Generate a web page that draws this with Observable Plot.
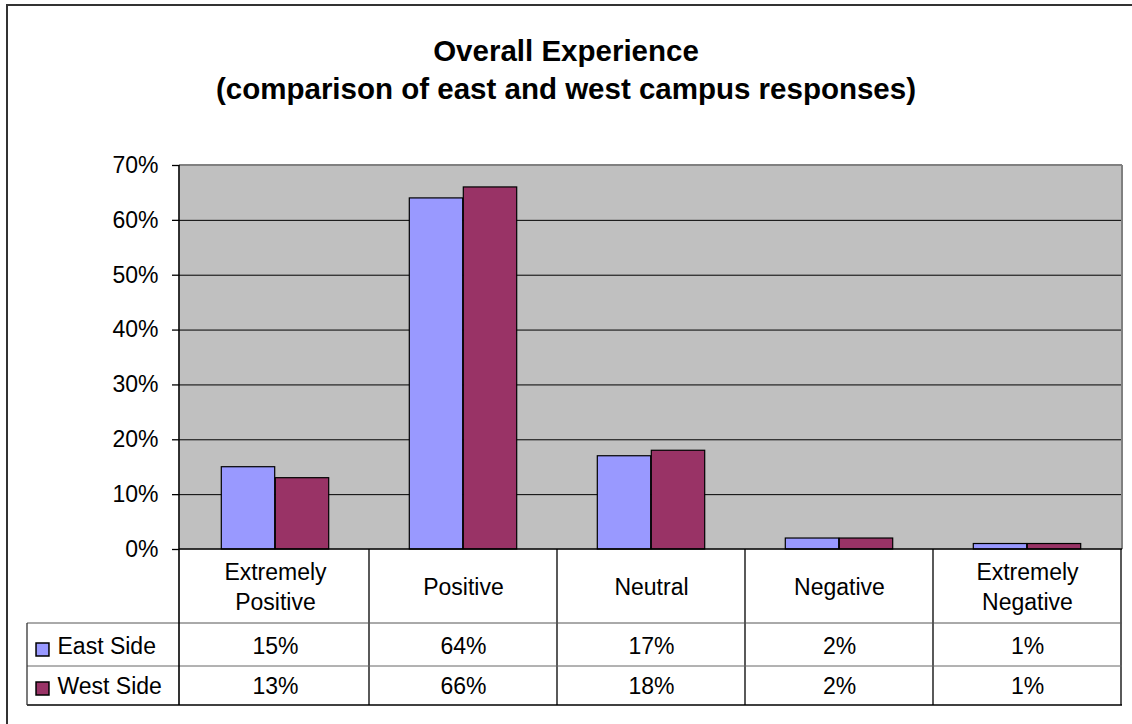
<!DOCTYPE html>
<html><head><meta charset="utf-8">
<script src="https://cdn.jsdelivr.net/npm/d3@7"></script>
<script src="https://cdn.jsdelivr.net/npm/@observablehq/plot@0.6"></script>
<style>
html,body{margin:0;padding:0;background:#fff;overflow:hidden;}
#wrap{position:relative;width:1132px;height:724px;overflow:hidden;font-family:"Liberation Sans",Arial,sans-serif;}
#border{position:absolute;left:6px;top:4px;width:1300px;height:900px;border:2px solid #333;}
#title{position:absolute;left:0;top:32px;width:1132px;text-align:center;font-weight:bold;font-size:29.5px;line-height:38px;color:#000;}
#chart{position:absolute;left:0;top:140px;}
</style></head>
<body><div id="wrap"><div id="border"></div><div id="title">Overall Experience<br>(comparison of east and west campus responses)</div><div id="chart"></div></div>
<script>
const categories = ["Extremely Positive", "Positive", "Neutral", "Negative", "Extremely Negative"];
const categoryLabels = ["Extremely\nPositive", "Positive", "Neutral", "Negative", "Extremely\nNegative"];
const sides = ["East Side", "West Side"];
const eastValues = [0.15, 0.64, 0.17, 0.02, 0.01];
const westValues = [0.13, 0.66, 0.18, 0.02, 0.01];
const sideColors = ["#9999FF", "#993366"];
const yTicks = [0, 0.1, 0.2, 0.3, 0.4, 0.5, 0.6, 0.7];
const gridTicks = [0.1, 0.2, 0.3, 0.4, 0.5, 0.6];

const seriesValues = [eastValues, westValues];
const data = categories.flatMap((c, i) => sides.map((s, k) => ({category: c, side: s, value: seriesValues[k][i]})));

const W = 1132, H = 584, mTop = 25, mBottom = 175, mLeft = 179, mRight = 10;
const bw = (W - mLeft - mRight) / categories.length;
const barW = 54;
const outer = (bw - 2 * barW) / 2;
const fmt = d3.format(".0%");
const FS = 23;
const rowDy = [97, 137];
const swatchDy = [100, 139];

function tableGrid(index, scales, values, dims) {
  const x = scales.x;
  const b = x.bandwidth();
  const L = dims.marginLeft, R = dims.width - dims.marginRight;
  const T = dims.marginTop, B = dims.height - dims.marginBottom;
  const g = d3.create("svg:g").attr("fill", "none");
  const line = (x1, y1, x2, y2, stroke, w) => g.append("line")
    .attr("x1", x1).attr("y1", y1).attr("x2", x2).attr("y2", y2)
    .attr("stroke", stroke).attr("stroke-width", w);
  line(L, T, R, T, "#808080", 2);
  line(R, T, R, B, "#808080", 2);
  categories.forEach(c => { const xr = x(c) + b; line(xr, B, xr, B + 156, "#000", 1.3); });
  line(L - 152, B + 74, R, B + 74, "#555", 1);
  line(L - 152, B + 117, R, B + 117, "#666", 1);
  line(L - 152, B + 156, R, B + 156, "#000", 1.3);
  line(L - 152, B + 74, L - 152, B + 156, "#333", 1.3);
  line(L, T, L, B + 156, "#000", 1.6);
  line(L, B, R, B, "#000", 1.6);
  return g.node();
}

const marks = [
  Plot.frame({fill: "#C0C0C0", stroke: "none"}),
  Plot.gridY(gridTicks, {stroke: "#000", strokeOpacity: 1, strokeWidth: 1}),
  Plot.barY(data.filter(d => d.side === sides[0]), {x: "category", y: "value", fill: "side", stroke: "#000", strokeWidth: 1.2, insetLeft: outer, insetRight: bw - outer - barW}),
  Plot.barY(data.filter(d => d.side === sides[1]), {x: "category", y: "value", fill: "side", stroke: "#000", strokeWidth: 1.2, insetLeft: outer + barW, insetRight: outer}),
  tableGrid,
  Plot.axisY(yTicks, {tickFormat: fmt, tickSize: 7, tickPadding: 14, fontSize: FS, label: null, stroke: "#000", strokeWidth: 1.3}),
  Plot.text(categories, {x: d => d, text: (d, i) => categoryLabels[i], frameAnchor: "bottom", dy: 36, lineAnchor: "middle", lineHeight: 1.3, fontSize: FS, fill: "#000"}),
  ...sides.flatMap((s, k) => [
    Plot.text(categories, {x: d => d, text: (d, i) => fmt(seriesValues[k][i]), frameAnchor: "bottom", dy: rowDy[k], lineAnchor: "middle", fontSize: FS, fill: "#000"}),
    Plot.text([s], {text: d => d, frameAnchor: "bottom-left", dx: -122, dy: rowDy[k], lineAnchor: "middle", textAnchor: "start", fontSize: FS, fill: "#000"}),
    Plot.dot([s], {frameAnchor: "bottom-left", dx: -137, dy: swatchDy[k], symbol: "square", r: 7.3, fill: d => d, stroke: "#000", strokeWidth: 1.5})
  ])
];

const chart = Plot.plot({
  width: W, height: H,
  marginTop: mTop, marginBottom: mBottom, marginLeft: mLeft, marginRight: mRight,
  x: {domain: categories, padding: 0, axis: null},
  y: {domain: [0, 0.7], label: null},
  color: {domain: sides, range: sideColors},
  style: {fontFamily: "'Liberation Sans', Arial, sans-serif", fontSize: FS + "px", color: "#000", background: "transparent", overflow: "visible"},
  marks
});
document.getElementById("chart").appendChild(chart);
</script>
</body></html>
